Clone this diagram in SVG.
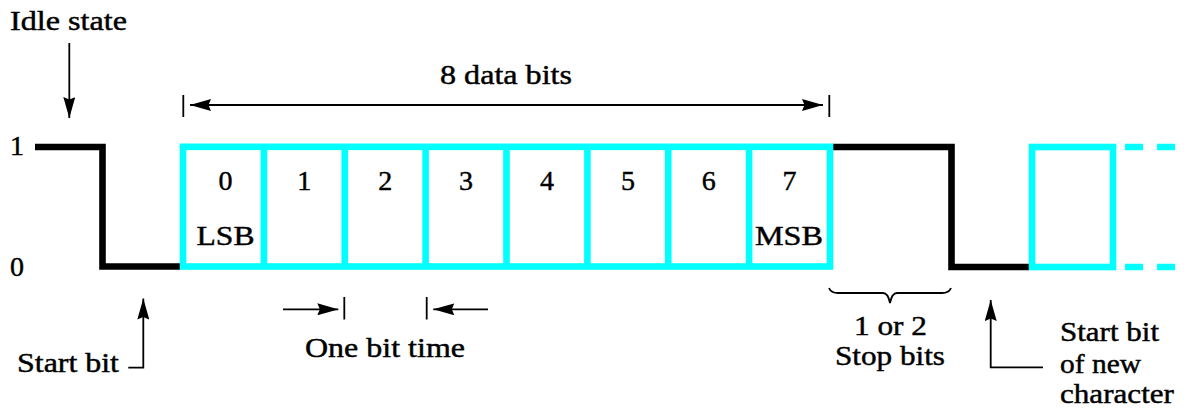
<svg xmlns="http://www.w3.org/2000/svg" width="1187" height="408" viewBox="0 0 1187 408">
<defs>
<style>
.t{font-family:"Liberation Serif","Times New Roman",serif;font-size:28px;fill:#000;stroke:#000;stroke-width:0.45}
.m{text-anchor:middle}
.sig{fill:none;stroke:#000;stroke-width:6.6;stroke-linejoin:miter;stroke-linecap:butt}
.cy{fill:none;stroke:#00FFFF;stroke-width:6.6;stroke-linejoin:miter}
.dash{fill:none;stroke:#00FFFF;stroke-width:6.6;stroke-dasharray:18 14}
.ln{fill:none;stroke:#000;stroke-width:1.8}
.tick{fill:none;stroke:#000;stroke-width:1.8}
</style>
<marker id="ah" viewBox="0 0 21 12" markerWidth="21" markerHeight="12" refX="21" refY="6" orient="auto-start-reverse" markerUnits="userSpaceOnUse">
<path d="M0,0 L21,6 L0,12 L2.5,6 z" fill="#000"/>
</marker>
</defs>
<rect width="1187" height="408" fill="#fff"/>

<g id="levels">
<text class="t" x="10" y="155">1</text>
<text class="t" x="10" y="276">0</text>
</g>

<g id="signal">
<polyline class="sig" points="35,147 102.5,147 102.5,266.5 180,266.5"/>
<polyline class="sig" points="833,147 951.5,147 951.5,267 1029,267"/>
</g>

<g id="data-frame">
<rect class="cy" x="183" y="146.8" width="647" height="119.7"/>
<line class="cy" x1="263.9" y1="146.8" x2="263.9" y2="266.5"/>
<line class="cy" x1="344.75" y1="146.8" x2="344.75" y2="266.5"/>
<line class="cy" x1="425.6" y1="146.8" x2="425.6" y2="266.5"/>
<line class="cy" x1="506.5" y1="146.8" x2="506.5" y2="266.5"/>
<line class="cy" x1="587.4" y1="146.8" x2="587.4" y2="266.5"/>
<line class="cy" x1="668.25" y1="146.8" x2="668.25" y2="266.5"/>
<line class="cy" x1="749.1" y1="146.8" x2="749.1" y2="266.5"/>
</g>

<g id="bit-labels">
<text class="t m" x="225.5" y="190">0</text>
<text class="t m" x="304.3" y="190">1</text>
<text class="t m" x="385.2" y="190">2</text>
<text class="t m" x="466" y="190">3</text>
<text class="t m" x="547" y="190">4</text>
<text class="t m" x="628" y="190">5</text>
<text class="t m" x="708.7" y="190">6</text>
<text class="t m" x="789.5" y="190">7</text>
<text class="t m" x="225.5" y="245" textLength="58" lengthAdjust="spacingAndGlyphs">LSB</text>
<text class="t m" x="789" y="245" textLength="68" lengthAdjust="spacingAndGlyphs">MSB</text>
</g>

<g id="next-frame">
<rect class="cy" x="1032" y="147" width="81" height="120"/>
<line class="dash" x1="1125" y1="147" x2="1187" y2="147"/>
<line class="dash" x1="1125" y1="267" x2="1187" y2="267"/>
</g>

<g id="idle-state">
<text class="t" x="10" y="30" textLength="117" lengthAdjust="spacingAndGlyphs">Idle state</text>
</g>

<g id="data-bits-label">
<text class="t" x="440" y="84" textLength="132" lengthAdjust="spacingAndGlyphs">8 data bits</text>
</g>

<g id="start-bit-label">
<text class="t" x="17" y="372" textLength="102" lengthAdjust="spacingAndGlyphs">Start bit</text>
</g>

<g id="one-bit-time-label">
<text class="t" x="305" y="357" textLength="160" lengthAdjust="spacingAndGlyphs">One bit time</text>
</g>

<g id="stop-bits-label">
<text class="t" x="854" y="335" textLength="73" lengthAdjust="spacingAndGlyphs">1 or 2</text>
<text class="t" x="835" y="365" textLength="110" lengthAdjust="spacingAndGlyphs">Stop bits</text>
</g>

<g id="new-start-label">
<text class="t" x="1060" y="341" textLength="99" lengthAdjust="spacingAndGlyphs">Start bit</text>
<text class="t" x="1060" y="373" textLength="81" lengthAdjust="spacingAndGlyphs">of new</text>
<text class="t" x="1060" y="403" textLength="114" lengthAdjust="spacingAndGlyphs">character</text>
</g>

<g id="connectors">
<line class="ln" x1="69.3" y1="43" x2="69.3" y2="118" marker-end="url(#ah)"/>
<line class="ln" x1="190" y1="105" x2="823" y2="105" marker-start="url(#ah)" marker-end="url(#ah)"/>
<line class="tick" x1="183.3" y1="95" x2="183.3" y2="117"/>
<line class="tick" x1="829.3" y1="95" x2="829.3" y2="117"/>
<line class="ln" x1="283" y1="309.3" x2="338.3" y2="309.3" marker-end="url(#ah)"/>
<line class="tick" x1="344.3" y1="297" x2="344.3" y2="319.5"/>
<line class="tick" x1="426.7" y1="297" x2="426.7" y2="319.5"/>
<line class="ln" x1="488" y1="309.3" x2="433.3" y2="309.3" marker-end="url(#ah)"/>
<polyline class="ln" points="128.3,367.7 143.3,367.7 143.3,298.5" marker-end="url(#ah)"/>
<polyline class="ln" points="1043,367.3 990.7,367.3 990.7,300" marker-end="url(#ah)"/>
<path class="ln" d="M829,288 Q831,293 838,293 L883,293 Q888,293 890,303 Q892,293 897,293 L942,293 Q949,293 951,288"/>
</g>
</svg>
